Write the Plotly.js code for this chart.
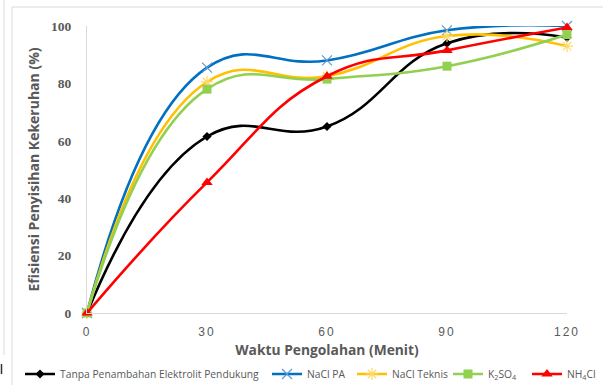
<!DOCTYPE html>
<html>
<head>
<meta charset="utf-8">
<script src="https://cdn.plot.ly/plotly-3.0.1.min.js"></script>
<style>
  html, body { margin: 0; padding: 0; background: #fff; }
  #chart { width: 603px; height: 385px; }
  .xtick text { letter-spacing: 2px; }
</style>
</head>
<body>
<div id="chart"></div>
<script>
// Processing time (minutes)
const waktu = [0, 30, 60, 90, 120];

// Turbidity removal efficiency (%) per supporting electrolyte
const tanpaElektrolit = [0, 61.5, 65, 94, 96];
const naclPA = [0, 85.5, 88, 98.5, 100];
const naclTeknis = [0, 80.5, 82.5, 96.5, 93];
const k2so4 = [0, 78, 81.5, 86, 97];
const nh4cl = [0, 45.5, 82.5, 91.5, 99.5];

const seriesNames = [
  'Tanpa Penambahan Elektrolit Pendukung',
  'NaCl PA',
  'NaCl Teknis',
  'K<sub>2</sub>SO<sub>4</sub>',
  'NH<sub>4</sub>Cl'
];

const xTicks = [0, 30, 60, 90, 120];
const yTicks = [0, 20, 40, 60, 80, 100];

const W = 603, H = 385;
const M = { l: 87, r: 36, t: 26, b: 72 };
const pw = W - M.l - M.r, ph = H - M.t - M.b;
// convert page pixels to paper coordinates for the frame lines
const px = v => (v - M.l) / pw;
const py = v => (H - M.b - v) / ph;

function series(y, name, legendId, color, symbol, msize, mcolor, mline) {
  return {
    x: waktu, y: y, name: name, legend: legendId, type: 'scatter', mode: 'lines+markers',
    line: { color: color, width: 2.6, shape: 'spline', smoothing: 1.3 },
    marker: { symbol: symbol, size: msize, color: mcolor,
              line: { color: mcolor, width: mline } },
    cliponaxis: false
  };
}

const data = [
  series(tanpaElektrolit, seriesNames[0], 'legend', '#000000', 'diamond', 7, '#000000', 0),
  series(naclPA, seriesNames[1], 'legend2', '#0070C0', 'x-thin-open', 10, '#5B9BD5', 1.2),
  series(naclTeknis, seriesNames[2], 'legend3', '#FFC000', 'asterisk-open', 10, '#FFD966', 1.2),
  series(k2so4, seriesNames[3], 'legend4', '#92D050', 'square', 9, '#92D050', 0),
  series(nh4cl, seriesNames[4], 'legend5', '#FF0000', 'triangle-up', 10, '#FF0000', 0)
];

const gray = '#595959';
const frame = '#DADADA';

// one legend per series so the entries sit in a single row along the bottom
function legendAt(left) {
  return {
    orientation: 'h', xref: 'container', x: left / W, xanchor: 'left',
    yref: 'container', y: (H - 374) / H, yanchor: 'middle',
    itemwidth: 30,
    font: { family: 'Open Sans, sans-serif', size: 10.3, color: gray },
    bgcolor: 'rgba(0,0,0,0)', borderwidth: 0
  };
}

const layout = {
  width: W, height: H,
  margin: M,
  paper_bgcolor: '#ffffff', plot_bgcolor: '#ffffff',
  showlegend: true,
  font: { family: 'Open Sans, sans-serif', color: gray },
  xaxis: {
    range: [0, 120], tickvals: xTicks, ticktext: xTicks.map(String),
    showgrid: false, zeroline: false, showline: true, linecolor: '#D9D9D9', linewidth: 1,
    ticks: '', ticklabelstandoff: 8,
    tickfont: { family: 'Liberation Sans, sans-serif', size: 12, color: gray },
    title: { text: 'Waktu Pengolahan (Menit)', standoff: 11,
             font: { family: 'Open Sans, sans-serif', size: 13.8, color: gray, weight: 'bold' } }
  },
  yaxis: {
    range: [0, 100], tickvals: yTicks, ticktext: yTicks.map(String),
    showgrid: false, zeroline: false, showline: true, linecolor: '#D9D9D9', linewidth: 1,
    ticks: '', ticklabelstandoff: 12,
    tickfont: { family: 'Liberation Serif, serif', size: 13.5, color: gray, weight: 'bold' },
    title: { text: 'Efisiensi Penyisihan Kekeruhan (%)', standoff: 8,
             font: { family: 'Open Sans, sans-serif', size: 14, color: gray, weight: 'bold' } }
  },
  legend: legendAt(20),
  legend2: legendAt(267),
  legend3: legendAt(352),
  legend4: legendAt(448),
  legend5: legendAt(527),
  shapes: [
    { type: 'line', xref: 'paper', yref: 'paper', x0: px(12), x1: px(603), y0: py(7), y1: py(7),
      line: { color: frame, width: 1 } },
    { type: 'line', xref: 'paper', yref: 'paper', x0: px(12), x1: px(12), y0: py(7), y1: py(385),
      line: { color: frame, width: 1 } },
    { type: 'line', xref: 'paper', yref: 'paper', x0: px(4), x1: px(4), y0: py(0), y1: py(355),
      line: { color: frame, width: 1 } },
    { type: 'line', xref: 'paper', yref: 'paper', x0: px(1.5), x1: px(1.5), y0: py(364), y1: py(374),
      line: { color: '#333333', width: 1.5 } }
  ]
};

Plotly.newPlot('chart', data, layout, { staticPlot: true, displayModeBar: false });
</script>
</body>
</html>
